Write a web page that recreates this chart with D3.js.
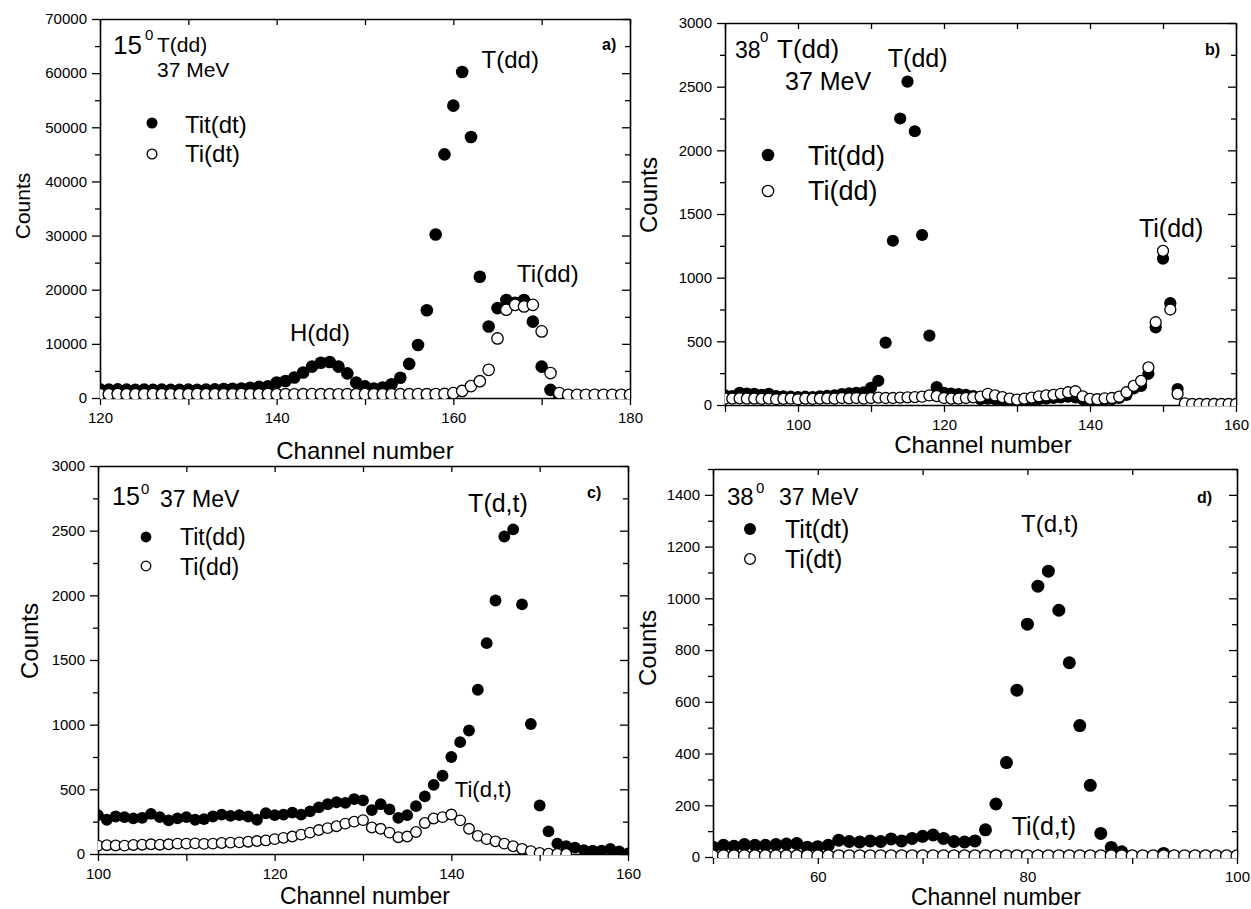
<!DOCTYPE html>
<html><head><meta charset="utf-8">
<script src="https://cdn.jsdelivr.net/npm/d3@7"></script>
<style>
body{margin:0;background:#fff}
text{font-family:"Liberation Sans",Arial,Helvetica,sans-serif;fill:#000}
</style>
</head><body>
<svg id="chart" width="1251" height="909"></svg>
<script>
// ---------------- DATA ----------------
// Panel a) 15 deg, channels 120..180
const chanA = d3.range(120, 181);
const titA = [1600,1550,1600,1550,1500,1550,1500,1550,1500,1500,
              1550,1500,1550,1600,1650,1700,1750,1900,2050,2150,
              2850,3150,3800,4700,5800,6500,6650,5800,4550,2850,
              2150,1750,1950,2550,3750,6300,9800,16200,30200,45000,
              54000,60200,48200,22400,13200,16600,18100,17600,18100,14100,
              5800,1500,400,400,400,400,400,400,400,400,400];
const tiA  = [700,700,720,700,690,700,710,700,690,700,
              700,710,700,700,690,700,710,700,700,720,
              700,700,690,700,710,700,700,690,700,700,
              710,700,700,690,700,700,710,700,720,750,
              900,1300,2200,3100,5200,11000,16300,17200,16900,17200,
              12300,4600,900,600,600,600,600,600,600,600,600];
// Panel b) 38 deg, channels 90..160
const chanB = d3.range(90, 161);
const titB = [75,70,95,90,88,80,88,70,68,65,
              62,65,62,68,72,75,85,92,95,100,
              135,190,490,1290,2250,2540,2150,1335,545,140,
              95,90,85,80,70,45,50,45,40,35,
              30,35,40,45,50,55,60,65,60,45,
              35,35,40,45,55,80,130,150,245,610,
              1150,800,125,8,5,5,5,5,5,5,5];
const tiB  = [50,50,52,50,50,48,50,45,48,50,
              45,50,48,50,52,50,55,52,55,50,
              55,58,55,55,58,60,62,65,75,70,
              55,50,50,55,60,65,88,75,62,50,
              42,50,58,68,75,80,88,100,108,68,
              48,45,52,55,65,100,150,190,295,650,
              1210,750,88,12,8,8,8,8,8,8,8];
// Panel c) 15 deg, channels 100..160
const chanC = d3.range(100, 161);
const titC = [300,265,290,285,275,280,310,285,260,275,
              285,265,270,290,305,295,300,290,265,315,
              300,305,320,305,330,360,385,400,395,425,
              415,340,385,345,280,300,370,445,535,605,
              750,865,955,1270,1630,1960,2455,2510,1930,1005,
              375,175,80,60,50,30,25,25,40,20,5];
const chanCo = d3.range(100, 154);
const tiC  = [65,68,66,65,70,72,75,72,75,80,
              80,82,78,80,85,88,90,95,100,105,
              115,125,135,150,165,185,200,215,235,250,
              262,205,195,165,130,135,170,240,275,285,
              305,260,195,140,115,98,80,60,40,22,
              8,2,0,0];
// Panel d) 38 deg, channels 50..100
const chanD = d3.range(50, 101);
const titD = [38,45,42,48,45,45,48,50,52,38,
              40,45,65,60,58,62,60,70,62,72,
              80,85,72,60,58,62,105,205,365,645,
              900,1047,1105,954,751,508,277,91,37,20,
              2,2,2,14,2,2,2,2,2,2,2];
const tiD  = [5,5,5,5,5,5,5,5,5,5,
              5,5,5,5,5,5,5,5,5,5,
              5,5,5,5,5,5,5,5,5,5,
              5,5,5,5,5,5,5,5,5,5,
              5,5,5,5,5,5,5,5,5,5,5];

// tick values
const xTicksA = [120,130,140,150,160,170,180], xLabA = [120,140,160,180];
const yTicksA = d3.range(0, 70001, 5000), yLabA = [0,10000,20000,30000,40000,50000,60000,70000];
const xTicksB = [90,100,110,120,130,140,150,160], xLabB = [100,120,140,160];
const yTicksB = d3.range(0, 3001, 250), yLabB = [0,500,1000,1500,2000,2500,3000];
const xTicksC = [100,110,120,130,140,150,160], xLabC = [100,120,140,160];
const yTicksC = d3.range(0, 3001, 250), yLabC = [0,500,1000,1500,2000,2500,3000];
const xTicksD = [50,60,70,80,90,100], xLabD = [60,80,100];
const yTicksD = d3.range(0, 1501, 100), yLabD = [0,200,400,600,800,1000,1200,1400];

// ---------------- DRAW ----------------
const svg = d3.select('#chart');

function txt(g, x, y, s, size, o = {}) {
  const t = g.append('text').attr('x', x).attr('y', y).attr('font-size', size).text(s);
  if (o.anchor) t.attr('text-anchor', o.anchor);
  if (o.bold) t.attr('font-weight', 'bold');
  if (o.rotate) t.attr('transform', `rotate(-90,${x},${y})`);
  return t;
}

function panel(cfg) {
  const w = cfg.right - cfg.left, h = cfg.bottom - cfg.top;
  const g = svg.append('g').attr('transform', `translate(${cfg.left},${cfg.top})`);
  const x = d3.scaleLinear().domain(cfg.xDomain).range([0, w]);
  const y = d3.scaleLinear().domain(cfg.yDomain).range([h, 0]);

  const isLabX = d => cfg.xLab.includes(d);
  const isLabY = d => cfg.yLab.includes(d);
  const bottom = g.append('g').attr('transform', `translate(0,${h})`)
    .call(d3.axisBottom(x).tickValues(cfg.xTicks).tickSize(7).tickSizeOuter(0).tickPadding(7)
      .tickFormat(d => isLabX(d) ? d : ''));
  const top = g.append('g')
    .call(d3.axisTop(x).tickValues(cfg.xTicks).tickSize(-6).tickSizeOuter(0).tickFormat(''));
  const left = g.append('g')
    .call(d3.axisLeft(y).tickValues(cfg.yTicks).tickSize(8).tickSizeOuter(0).tickPadding(5)
      .tickFormat(d => isLabY(d) ? d : ''));
  left.selectAll('.tick line').attr('x2', d => isLabY(d) ? -8 : -5);
  const right = g.append('g').attr('transform', `translate(${w},0)`)
    .call(d3.axisRight(y).tickValues(cfg.yTicks).tickSize(-8).tickSizeOuter(0).tickFormat(''));
  right.selectAll('.tick line').attr('x2', d => isLabY(d) ? -8 : -5);
  [bottom, top, left, right].forEach(a => {
    a.select('.domain').attr('stroke', '#000').attr('stroke-width', 1.6);
    a.selectAll('.tick line').attr('stroke', '#000').attr('stroke-width', 1.3);
    a.selectAll('.tick text').attr('font-size', 15).attr('fill', '#000')
      .attr('font-family', '"Liberation Sans",Arial,sans-serif');
  });
  bottom.selectAll('.tick text').attr('dy', '0.71em');

  // clip
  const cid = 'clip' + cfg.id;
  svg.append('defs').append('clipPath').attr('id', cid)
    .append('rect').attr('x', 0).attr('y', -10).attr('width', w).attr('height', h + 11);
  const m = g.append('g').attr('clip-path', `url(#${cid})`);

  // filled series first, open on top
  m.selectAll('circle.f').data(cfg.chanF.map((c, i) => [c, cfg.filled[i]])).join('circle')
    .attr('class', 'f').attr('cx', d => x(d[0])).attr('cy', d => y(d[1]))
    .attr('r', cfg.r).attr('fill', '#000');
  m.selectAll('circle.o').data(cfg.chanO.map((c, i) => [c, cfg.open[i]])).join('circle')
    .attr('class', 'o').attr('cx', d => x(d[0])).attr('cy', d => y(d[1]))
    .attr('r', cfg.r - 0.6).attr('fill', '#fff').attr('stroke', '#000').attr('stroke-width', 1.3);

  // axis titles
  txt(svg, cfg.countsX, cfg.countsY, 'Counts', cfg.countsSize, {anchor: 'middle', rotate: true});
  txt(svg, cfg.chanTitleX, cfg.chanTitleY, 'Channel number', cfg.chanSize, {anchor: 'middle'});

  // panel letter
  txt(g, cfg.letterPos[0], cfg.letterPos[1], cfg.letter, 16, {bold: true});

  // header
  const hd = cfg.header;
  txt(g, hd.angPos[0], hd.angPos[1], hd.ang, hd.angSize);
  txt(g, hd.degPos[0], hd.degPos[1], '0', 15);
  hd.lines.forEach(l => txt(g, l[0], l[1], l[2], l[3]));

  // legend
  const lg = cfg.legend;
  g.append('circle').attr('cx', lg.mx).attr('cy', lg.my1).attr('r', lg.r).attr('fill', '#000');
  g.append('circle').attr('cx', lg.mx).attr('cy', lg.my2).attr('r', lg.r - 0.6)
    .attr('fill', '#fff').attr('stroke', '#000').attr('stroke-width', 1.3);
  txt(g, lg.tx, lg.ty1, lg.n1, lg.size);
  txt(g, lg.tx, lg.ty2, lg.n2, lg.size);

  // peak annotations (placed in data coordinates)
  cfg.notes.forEach(n => txt(g, x(n[0]), y(n[1]), n[2], n[3]));
}

panel({
  id: 'a', left: 100, right: 630, top: 19, bottom: 398,
  xDomain: [120, 180], yDomain: [0, 70000],
  xTicks: xTicksA, xLab: xLabA, yTicks: yTicksA, yLab: yLabA,
  chanF: chanA, filled: titA, chanO: chanA, open: tiA, r: 6.3,
  countsX: 30, countsY: 206, countsSize: 21, chanTitleX: 365, chanTitleY: 459, chanSize: 24,
  letter: 'a)', letterPos: [502, 31],
  header: {ang: '15', angPos: [13, 35], angSize: 26, degPos: [45, 21],
           lines: [[57, 33, 'T(dd)', 21], [57, 58, '37 MeV', 21]]},
  legend: {mx: 52, my1: 104, my2: 135, r: 5.5, tx: 85, ty1: 114, ty2: 143, n1: 'Tit(dt)', n2: 'Ti(dt)', size: 24},
  notes: [[163.2, 60950, 'T(dd)', 24], [167.2, 21430, 'Ti(dd)', 24], [141.5, 10530, 'H(dd)', 24]]
});

panel({
  id: 'b', left: 725, right: 1236, top: 23, bottom: 405,
  xDomain: [90, 160], yDomain: [0, 3000],
  xTicks: xTicksB, xLab: xLabB, yTicks: yTicksB, yLab: yLabB,
  chanF: chanB, filled: titB, chanO: chanB, open: tiB, r: 6.1,
  countsX: 657, countsY: 195, countsSize: 24, chanTitleX: 983, chanTitleY: 453, chanSize: 24,
  letter: 'b)', letterPos: [480, 32],
  header: {ang: '38', angPos: [10, 35], angSize: 23, degPos: [35, 19],
           lines: [[52, 35, 'T(dd)', 26], [60, 67, '37 MeV', 25]]},
  legend: {mx: 43, my1: 132, my2: 168, r: 6.3, tx: 83, ty1: 142, ty2: 177, n1: 'Tit(dd)', n2: 'Ti(dd)', size: 27},
  notes: [[112.3, 2655, 'T(dd)', 25], [146.7, 1320, 'Ti(dd)', 25]]
});

panel({
  id: 'c', left: 98, right: 628, top: 466, bottom: 854,
  xDomain: [100, 160], yDomain: [0, 3000],
  xTicks: xTicksC, xLab: xLabC, yTicks: yTicksC, yLab: yLabC,
  chanF: chanC, filled: titC, chanO: chanCo, open: tiC, r: 5.9,
  countsX: 38, countsY: 641, countsSize: 24, chanTitleX: 365, chanTitleY: 904, chanSize: 23,
  letter: 'c)', letterPos: [489, 32],
  header: {ang: '15', angPos: [14, 39], angSize: 25, degPos: [43, 28],
           lines: [[62, 41, '37 MeV', 23]]},
  legend: {mx: 48, my1: 71, my2: 100, r: 5.4, tx: 82, ty1: 79, ty2: 109, n1: 'Tit(dd)', n2: 'Ti(dd)', size: 23},
  notes: [[141.9, 2645, 'T(d,t)', 25], [140.4, 441, 'Ti(d,t)', 22]]
});

panel({
  id: 'd', left: 713, right: 1237, top: 469, bottom: 857,
  xDomain: [50, 100], yDomain: [0, 1500],
  xTicks: xTicksD, xLab: xLabD, yTicks: yTicksD, yLab: yLabD,
  chanF: chanD, filled: titD, chanO: chanD, open: tiD, r: 6.5,
  countsX: 656, countsY: 648, countsSize: 24, chanTitleX: 996, chanTitleY: 905, chanSize: 23,
  letter: 'd)', letterPos: [484, 34],
  header: {ang: '38', angPos: [14, 36], angSize: 24, degPos: [43, 24],
           lines: [[66, 36, '37 MeV', 23]]},
  legend: {mx: 37, my1: 60, my2: 90, r: 6, tx: 72, ty1: 69, ty2: 99, n1: 'Tit(dt)', n2: 'Ti(dt)', size: 25},
  notes: [[79.4, 1256, 'T(d,t)', 24], [78.5, 85, 'Ti(d,t)', 25]]
});
</script>
</body></html>
